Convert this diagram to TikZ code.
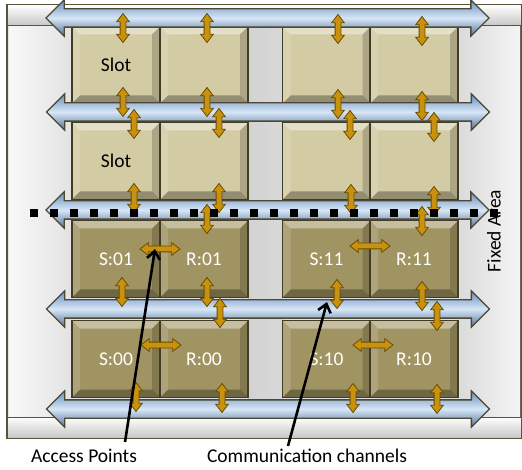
\documentclass[tikz,border=0pt]{standalone}
\usepackage{fontspec}
\setmainfont{Carlito}
\usetikzlibrary{shapes.arrows,arrows.meta}

\definecolor{frameline}{RGB}{88,84,60}
\definecolor{framegray}{RGB}{226,226,226}
\definecolor{slotlight}{RGB}{211,203,164}
\definecolor{slotdark}{RGB}{160,148,98}
\definecolor{slotedge}{RGB}{66,60,36}
\definecolor{chanblue}{RGB}{104,142,192}
\definecolor{chanlight}{RGB}{214,230,246}
\definecolor{chanedge}{RGB}{76,72,50}
\definecolor{goldfill}{RGB}{200,146,14}
\definecolor{goldedge}{RGB}{105,76,0}

\begin{document}
\begin{tikzpicture}[x=1pt,y=-1pt,
  txt/.style={font=\fontsize{19.5}{22}\selectfont, inner sep=0pt},
  slot/.style={draw=slotedge, line width=1.4pt, fill=#1, minimum width=88pt, minimum height=77pt,
    inner sep=0pt, font=\fontsize{19.5}{22}\selectfont,
    path picture={
      \coordinate (nw) at (path picture bounding box.north west);
      \coordinate (ne) at (path picture bounding box.north east);
      \coordinate (sw) at (path picture bounding box.south west);
      \coordinate (se) at (path picture bounding box.south east);
      \fill[white,opacity=.4] (nw) -- (ne) -- ([shift={(-8pt,-8pt)}]ne) -- ([shift={(8pt,-8pt)}]nw) -- cycle;
      \fill[black,opacity=.3] (sw) -- (se) -- ([shift={(-8pt,8pt)}]se) -- ([shift={(8pt,8pt)}]sw) -- cycle;
      \fill[black,opacity=.18] (ne) -- (se) -- ([shift={(-8pt,8pt)}]se) -- ([shift={(-8pt,-8pt)}]ne) -- cycle;
      \fill[white,opacity=.15] (nw) -- (sw) -- ([shift={(8pt,8pt)}]sw) -- ([shift={(8pt,-8pt)}]nw) -- cycle;
    }},
  chan/.style={double arrow, draw=chanedge, line width=1.3pt, inner xsep=0pt, inner ysep=8.5pt,
    double arrow head extend=9pt, double arrow tip angle=90, minimum height=443pt,
    top color=chanblue, bottom color=chanblue!80!black, middle color=chanlight},
  gold/.style={double arrow, draw=goldedge, line width=.8pt, fill=goldfill, inner xsep=0pt,
    inner ysep=2.5pt, double arrow head extend=3.5pt, double arrow tip angle=75},
  goldv/.style={gold, rotate=90, minimum height=29pt},
  goldh/.style={gold, minimum height=40pt},
  pointer/.style={-{Straight Barb[length=8pt,width=13pt]}, line width=2.6pt, black}]

\useasboundingbox (0,0) rectangle (522,470);

% frame
\filldraw[fill=framegray, draw=frameline, line width=1.5pt] (7,5) rectangle (521,438);
\shade[left color=gray!5, right color=gray!22] (9,26) rectangle (70,417);
\shade[left color=gray!35, middle color=gray!6, right color=gray!30] (248,26) rectangle (283,417);
\shade[left color=gray!28, right color=gray!8] (460,26) rectangle (520,417);
\shade[top color=white, bottom color=gray!45, draw=frameline, line width=1pt] (7,5) rectangle (521,26);
\shade[top color=white, bottom color=gray!45, draw=frameline, line width=1pt] (7,417) rectangle (521,438);

% slots
\node[slot=slotlight] (free11) at (116,65) {Slot};
\node[slot=slotlight] (free12) at (204,65) {};
\node[slot=slotlight] (free13) at (326.5,65) {};
\node[slot=slotlight] (free14) at (414,65) {};
\node[slot=slotlight] (free21) at (116,161) {Slot};
\node[slot=slotlight] (free22) at (204,161) {};
\node[slot=slotlight] (free23) at (326.5,161) {};
\node[slot=slotlight] (free24) at (414,161) {};
\node[slot=slotdark, text=white] (s01) at (116,259) {S:01};
\node[slot=slotdark, text=white] (r01) at (204,259) {R:01};
\node[slot=slotdark, text=white] (s11) at (326.5,259) {S:11};
\node[slot=slotdark, text=white] (r11) at (414,259) {R:11};
\node[slot=slotdark, text=white] (s00) at (116,359) {S:00};
\node[slot=slotdark, text=white] (r00) at (204,359) {R:00};
\node[slot=slotdark, text=white] (s10) at (326.5,359) {S:10};
\node[slot=slotdark, text=white] (r10) at (414,359) {R:10};

% communication channels
\node[chan] (ch0) at (267.5,18) {};
\node[chan] (ch1) at (268,112) {};
\node[chan] (ch2) at (267.5,210) {};
\node[chan] (ch3) at (268,309) {};
\node[chan] (ch4) at (268,409) {};

% access points
\node[goldv] (v11t) at (123,28) {};
\node[goldv] (v12t) at (207,28) {};
\node[goldv] (v13t) at (338,29) {};
\node[goldv] (v14t) at (422,31) {};
\node[goldv] (v11b) at (123,102) {};
\node[goldv] (v12b) at (207,102) {};
\node[goldv] (v13b) at (338,104) {};
\node[goldv] (v14b) at (422,106) {};
\node[goldv] (v21t) at (134,124) {};
\node[goldv] (v22t) at (219,123) {};
\node[goldv] (v23t) at (350,125) {};
\node[goldv] (v24t) at (434,127) {};
\node[goldv] (v21b) at (134,198) {};
\node[goldv] (v22b) at (219,198) {};
\node[goldv] (v23b) at (351,199) {};
\node[goldv] (v24b) at (434,201) {};
\node[goldv] (v32t) at (207,219) {};
\node[goldv] (v34t) at (422,221) {};
\node[goldv] (v31b) at (122,292) {};
\node[goldv] (v32b) at (207,292) {};
\node[goldv] (v33b) at (337,294) {};
\node[goldv] (v34b) at (422,296) {};
\node[goldv] (v42t) at (220,313) {};
\node[goldv] (v44t) at (437,316) {};
\node[goldv] (v41b) at (136,397) {};
\node[goldv] (v42b) at (222,398) {};
\node[goldv] (v43b) at (353,398) {};
\node[goldv] (v44b) at (437,399) {};
\node[goldh] (ap01) at (160,249) {};
\node[goldh] (ap11) at (370,246) {};
\node[goldh] (ap00) at (161,345) {};
\node[goldh] (ap10) at (373,345) {};

% fixed area border
\node[txt, rotate=90] (fixed) at (494,231) {Fixed Area};
\coordinate (dashL) at (30,213);
\coordinate (dashR) at (500,213);
\draw[line width=8pt, dash pattern=on 8pt off 12pt] (dashL) -- (dashR);

% labels
\node[txt] (access) at (84,456) {Access Points};
\node[txt] (comm) at (307,456) {Communication channels};
\coordinate (apTip) at (155,249);
\coordinate (chTip) at (327,302);
\draw[pointer] ([xshift=41pt,yshift=7pt]access.north) -- (apTip);
\draw[pointer] ([xshift=-19pt,yshift=3pt]comm.north) -- (chTip);
\end{tikzpicture}
\end{document}
